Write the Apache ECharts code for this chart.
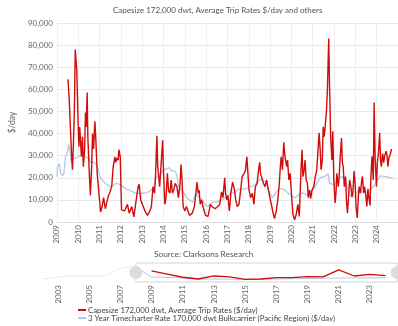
<!DOCTYPE html>
<html><head><meta charset="utf-8">
<script src="https://cdn.jsdelivr.net/npm/echarts@6/dist/echarts.min.js"></script>
<style>html,body{margin:0;padding:0;background:#fff}#c{width:398px;height:326px}</style>
</head><body><div id="c"></div>
<script>
// Capesize 172,000 dwt average trip rates ($/day) — x in decimal years
const capeYears = [2009.52,2009.58,2009.63,2009.70,2009.73,2009.77,2009.82,2009.86,2009.93,2010.00,2010.03,2010.07,2010.15,2010.20,2010.24,2010.30,2010.34,2010.37,2010.42,2010.45,2010.52,2010.57,2010.63,2010.67,2010.72,2010.78,2010.82,2010.89,2010.97,2011.05,2011.12,2011.19,2011.27,2011.34,2011.42,2011.49,2011.57,2011.64,2011.72,2011.76,2011.82,2011.87,2011.91,2011.97,2012.03,2012.17,2012.31,2012.39,2012.51,2012.61,2012.72,2012.81,2012.86,2012.93,2012.99,2013.06,2013.13,2013.25,2013.36,2013.43,2013.51,2013.58,2013.63,2013.69,2013.73,2013.78,2013.82,2013.88,2013.96,2014.00,2014.06,2014.12,2014.18,2014.24,2014.30,2014.36,2014.42,2014.48,2014.55,2014.63,2014.70,2014.78,2014.82,2014.87,2014.92,2015.00,2015.08,2015.15,2015.22,2015.35,2015.45,2015.52,2015.57,2015.63,2015.67,2015.72,2015.79,2015.85,2015.91,2015.97,2016.09,2016.12,2016.20,2016.27,2016.34,2016.42,2016.54,2016.64,2016.72,2016.79,2016.87,2016.91,2016.97,2017.02,2017.09,2017.16,2017.24,2017.32,2017.39,2017.46,2017.54,2017.61,2017.69,2017.76,2017.84,2017.91,2017.96,2018.01,2018.09,2018.17,2018.24,2018.31,2018.39,2018.46,2018.51,2018.55,2018.61,2018.69,2018.76,2018.84,2018.91,2018.99,2019.06,2019.15,2019.21,2019.29,2019.36,2019.43,2019.48,2019.52,2019.58,2019.64,2019.70,2019.78,2019.82,2019.88,2019.94,2020.00,2020.07,2020.15,2020.23,2020.30,2020.37,2020.45,2020.50,2020.54,2020.60,2020.64,2020.69,2020.75,2020.79,2020.85,2020.90,2020.97,2021.05,2021.12,2021.19,2021.24,2021.30,2021.35,2021.39,2021.45,2021.49,2021.54,2021.58,2021.64,2021.69,2021.75,2021.79,2021.84,2021.90,2021.94,2021.99,2022.05,2022.09,2022.13,2022.20,2022.24,2022.29,2022.35,2022.39,2022.43,2022.48,2022.54,2022.58,2022.63,2022.69,2022.73,2022.79,2022.84,2022.88,2022.94,2022.99,2023.03,2023.09,2023.14,2023.18,2023.24,2023.29,2023.33,2023.39,2023.43,2023.48,2023.54,2023.59,2023.63,2023.69,2023.73,2023.78,2023.84,2023.88,2023.93,2023.99,2024.03,2024.08,2024.14,2024.18,2024.22,2024.28,2024.33,2024.37,2024.44,2024.48,2024.53,2024.57,2024.63,2024.67,2024.70];
const capeValues = [64500,55000,43000,28000,23600,34000,51000,78000,69000,43000,34000,43000,29500,38600,25000,33000,49500,43000,58600,38600,22000,12000,25000,40000,33000,45500,38600,22000,13000,4500,7000,11000,6000,9000,12000,13600,16000,25000,29500,27000,29000,28000,32700,29500,5500,5000,8000,4000,7000,2300,10000,16000,17000,10000,8500,8000,5000,3000,5000,7000,16000,13000,22000,39000,25000,20000,16000,25000,37000,23000,8000,11000,22000,14000,13000,19000,13000,14500,17500,16000,11000,17500,26000,19000,7000,5000,7000,5000,3000,4000,7000,13000,18000,13000,14500,8000,10000,7000,5000,3000,2500,2000,8000,7000,7500,6000,7000,8000,13600,11000,20000,13000,10000,12000,5000,13000,18000,15000,10000,7000,8000,13600,20500,21000,23000,29500,22000,14500,11000,13000,8000,16000,17500,23600,27000,22000,20000,17500,16000,19000,15000,11000,8000,3600,1500,5000,10000,17000,25000,29500,23600,36000,29500,25000,28000,19000,22000,13000,3600,1000,3600,8000,2500,23600,32700,20500,23600,28000,19000,17500,11000,14500,10600,14500,16000,20500,23600,31000,40400,32700,23600,28000,43000,38600,43000,49500,60000,83000,61500,38800,28000,41000,19000,8600,13000,22000,16000,20600,29700,38000,26800,25000,16000,20600,10000,4000,13000,19000,16000,11500,13000,23000,17000,7000,1800,11500,16000,13000,18000,20600,13000,16000,13000,7000,15000,11500,7500,20600,29700,19000,54000,28000,16000,26800,31000,40400,28000,25000,31000,26800,29700,32000,30400,25000,29000,30400,32000,33000];

// 3 Year Timecharter Rate 170,000 dwt Bulkcarrier (Pacific Region) ($/day)
const tcYears = [2009.00,2009.03,2009.10,2009.18,2009.26,2009.33,2009.40,2009.48,2009.55,2009.60,2009.67,2009.77,2009.85,2010.00,2010.15,2010.22,2010.30,2010.45,2010.60,2010.75,2010.89,2011.02,2011.12,2011.27,2011.49,2011.64,2011.79,2011.94,2012.09,2012.24,2012.39,2012.54,2012.69,2012.84,2012.99,2013.13,2013.29,2013.43,2013.58,2013.66,2013.73,2013.81,2013.96,2014.11,2014.25,2014.33,2014.41,2014.55,2014.63,2014.70,2014.78,2014.92,2015.08,2015.22,2015.37,2015.52,2015.60,2015.67,2015.82,2015.97,2016.09,2016.27,2016.49,2016.72,2017.02,2017.16,2017.32,2017.46,2017.61,2017.84,2018.06,2018.21,2018.36,2018.51,2018.66,2018.81,2018.96,2019.11,2019.26,2019.40,2019.56,2019.70,2019.85,2020.00,2020.15,2020.30,2020.45,2020.60,2020.75,2020.90,2021.05,2021.19,2021.35,2021.49,2021.64,2021.72,2021.79,2021.94,2022.09,2022.24,2022.39,2022.54,2022.69,2022.84,2022.99,2023.14,2023.29,2023.43,2023.59,2023.73,2023.88,2024.03,2024.18,2024.33,2024.48,2024.63,2024.75];
const tcValues = [20500,25000,26500,22000,21000,22000,29500,31000,35000,33000,27000,28500,29000,29500,30400,31000,29500,29000,27000,27000,25000,20500,19000,17500,16000,16500,17500,17000,16000,15000,14500,13600,13000,13000,13000,13000,13600,14500,16500,20500,21000,21000,23000,24000,24500,25000,23000,23000,21000,16500,15000,13600,11000,10000,9000,13000,12000,11000,10000,7500,7000,9000,9000,10000,11500,13600,13000,14500,15000,15000,16000,16500,17500,19000,19000,18000,13600,11000,13000,15000,15000,14500,13000,12000,11000,12000,13000,13000,12000,13600,15000,17500,20000,20500,21000,22000,17500,17000,18000,20000,20500,19000,13000,11000,12000,14500,13600,13600,13600,15000,16500,19000,21000,20500,20500,20000,20000];

// Navigator (overview) series
const navCapeYears = [2009,2010,2011,2012,2013,2014,2015,2016,2017,2018,2019,2020,2021,2022,2023,2024];
const navCapeValues = [35000,25000,15000,9500,19000,16000,8500,9500,13500,14000,17000,16000,38000,19000,24000,20000];
const navTcYearsOut = [2002,2003.5,2006,2007.2,2008];
const navTcValuesOut = [9500,19000,19000,47000,47000];
const navTcYears = [2008,2009,2011,2012,2014,2016,2018,2020,2021,2022,2024];
const navTcValues = [47000,16000,12600,9500,9000,8500,10500,11500,12600,12600,13600];
const navRange = [2008, 2024.75];

const yearTicksNav = [2003,2005,2007,2009,2011,2013,2015,2017,2019,2021,2023];

const zip = (xs, ys) => xs.map((x, i) => [x, ys[i]]);
const FONT = 'Lato';
const RED = '#d20b0b', BLUE = '#b3c8e6';

const chart = echarts.init(document.getElementById('c'), null, {renderer: 'canvas'});
chart.setOption({
  animation: false,
  textStyle: {fontFamily: FONT},
  title: {
    text: 'Capesize 172,000 dwt, Average Trip Rates $/day and others',
    left: 113, top: 6, padding: 0,
    textStyle: {fontSize: 8, fontWeight: 'normal', color: '#555', fontFamily: FONT}
  },
  graphic: [{
    type: 'text', left: 154, top: 250,
    style: {text: 'Source: Clarksons Research', fontSize: 8.3, fill: '#555', fontFamily: FONT}
  }],
  legend: {
    orient: 'vertical', left: 78, top: 306, itemGap: 0, padding: 0, height: 20,
    itemWidth: 8, itemHeight: 2, icon: 'rect',
    textStyle: {fontSize: 7.8, lineHeight: 8, color: '#444', fontFamily: FONT, padding: [0,0,0,-3]},
    data: ['Capesize 172,000 dwt, Average Trip Rates ($/day)', '3 Year Timecharter Rate 170,000 dwt Bulkcarrier (Pacific Region) ($/day)']
  },
  grid: [
    {left: 41, right: 0, top: 23, bottom: 104},
    {left: 40, right: 0, top: 263, height: 19}
  ],
  xAxis: [{
    gridIndex: 0, type: 'value', min: 2009, max: 2025, interval: 1,
    axisLine: {show: true, lineStyle: {color: '#ddd'}},
    axisTick: {show: false},
    axisLabel: {rotate: 90, fontSize: 8, color: '#666', margin: 3, showMaxLabel: false, formatter: v => String(v)},
    splitLine: {show: true, lineStyle: {color: '#eeeeee'}}
  }, {
    gridIndex: 1, type: 'value', min: 2001.85, max: 2024.8,
    axisLine: {show: false}, axisTick: {show: false},
    axisLabel: {rotate: 90, fontSize: 8, color: '#666', margin: 3, customValues: yearTicksNav, formatter: v => String(v)},
    splitLine: {show: false}
  }],
  yAxis: [{
    gridIndex: 0, type: 'value', min: 0, max: 90000, interval: 10000,
    name: '$/day', nameLocation: 'middle', nameRotate: 90, nameGap: 30,
    nameTextStyle: {fontSize: 8.5, color: '#666'},
    axisLine: {show: false}, axisTick: {show: false},
    axisLabel: {fontSize: 8, color: '#666', margin: 4, formatter: v => v.toLocaleString('en-US')},
    splitLine: {lineStyle: {color: '#e8e8e8'}}
  }, {
    gridIndex: 1, type: 'value', min: 0, max: 60000,
    axisLine: {show: false}, axisTick: {show: false}, axisLabel: {show: false}, splitLine: {show: false}
  }],
  series: [{
    name: '3 Year Timecharter Rate 170,000 dwt Bulkcarrier (Pacific Region) ($/day)',
    type: 'line', xAxisIndex: 0, yAxisIndex: 0, showSymbol: false,
    data: zip(tcYears, tcValues), lineStyle: {color: BLUE, width: 1.3}, itemStyle: {color: BLUE}, z: 2
  }, {
    name: 'Capesize 172,000 dwt, Average Trip Rates ($/day)',
    type: 'line', xAxisIndex: 0, yAxisIndex: 0, showSymbol: false,
    data: zip(capeYears, capeValues), lineStyle: {color: RED, width: 1.4}, itemStyle: {color: RED}, z: 3
  }, {
    name: 'navTcOut', type: 'line', xAxisIndex: 1, yAxisIndex: 1, showSymbol: false,
    data: zip(navTcYearsOut, navTcValuesOut), lineStyle: {color: '#e3eaf4', width: 1}
  }, {
    name: 'navTc', type: 'line', xAxisIndex: 1, yAxisIndex: 1, showSymbol: false,
    data: zip(navTcYears, navTcValues), lineStyle: {color: BLUE, width: 1},
    markArea: {silent: true, itemStyle: {color: 'rgba(0,0,0,0)', borderColor: '#d4d4d4', borderWidth: 1},
      data: [[{xAxis: navRange[0], yAxis: 60000}, {xAxis: navRange[1], yAxis: 0}]]}
  }, {
    name: 'navCape', type: 'line', xAxisIndex: 1, yAxisIndex: 1, showSymbol: false,
    data: zip(navCapeYears, navCapeValues), lineStyle: {color: RED, width: 1.3},
    markPoint: {silent: true, symbol: 'circle', symbolSize: 13, label: {show: false},
      itemStyle: {color: '#d9dce1'},
      data: [{coord: [navRange[0], 30000]}, {coord: [navRange[1], 30000]}]}
  }]
});
</script></body></html>
